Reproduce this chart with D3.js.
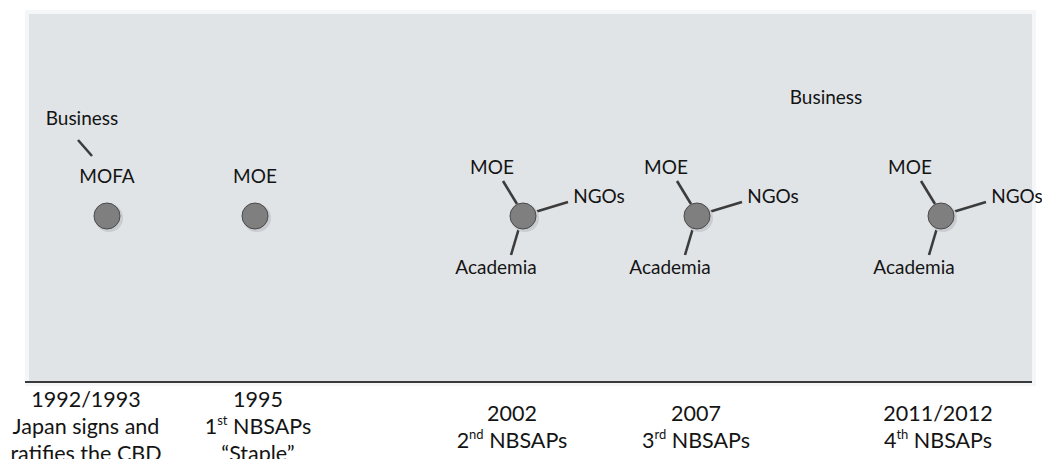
<!DOCTYPE html>
<meta charset="utf-8">
<head>
<style>
body { margin: 0; background: #fff; }
svg { display: block; }
.lbl { font-family: Lato, "Open Sans", sans-serif; fill: #141414; }
.spoke { stroke: #3c3c3c; stroke-width: 2.6px; stroke-linecap: butt; }
.node { fill: #7f7f7f; stroke: #4a4a4a; stroke-width: 1px; }
.shadow { fill: #c9ccd0; }
</style>
<script src="https://d3js.org/d3.v7.min.js"></script>
</head>
<body>
<svg width="1042" height="459"></svg>
<script>

// events on the timeline
var eventYears = [1992.5, 1995, 2002, 2007, 2011.5];
var captions = [
  ["1992/1993", "Japan signs and", "ratifies the CBD"],
  ["1995", "1|st| NBSAPs", "\u201cStaple\u201d"],
  ["2002", "2|nd| NBSAPs"],
  ["2007", "3|rd| NBSAPs"],
  ["2011/2012", "4|th| NBSAPs"]
];
// actor shown on the node itself, and actors linked by spokes
var leadActors = ["MOFA", "MOE", null, null, null];
var linkedActors = [
  ["Business"],
  [],
  ["MOE", "NGOs", "Academia"],
  ["MOE", "NGOs", "Academia"],
  ["MOE", "NGOs", "Academia"]
];
// actors floating without a link
var floatingActors = [{name: "Business", year: 2009.38}];

var svg = d3.select("svg");

// piecewise time axis, the timeline is not to scale
var x = d3.scaleLinear()
    .domain(eventYears)
    .range([107, 255, 523, 697, 941]);

var nodeY = 216, radius = 13;
var captionDx = [-21, 3, -11, -1, -3];

// spoke geometry per actor, relative to the node centre
var roles = {
  MOE:      {x1: -20, y1: -35, x2: -6, y2: -12, lx: -31, ly: -42},
  NGOs:     {x1: 12, y1: -4, x2: 45, y2: -14, lx: 76, ly: -13},
  Academia: {x1: -4, y1: 12, x2: -12, y2: 39, lx: -27, ly: 58},
  Business: {x1: -29, y1: -76, x2: -15, y2: -60, lx: -25, ly: -91}
};

// panel
svg.append("rect").attr("x", 25).attr("y", 10).attr("width", 1011).attr("height", 376).attr("fill", "#f4f6f8");
svg.append("rect").attr("x", 29).attr("y", 14).attr("width", 1003).attr("height", 368).attr("fill", "#e1e4e7");
svg.append("line").attr("x1", 25).attr("x2", 1032).attr("y1", 382).attr("y2", 382)
    .attr("stroke", "#3a3a3a").attr("stroke-width", 2);

var events = eventYears.map(function(y, i) {
  return {year: y, i: i, lead: leadActors[i], links: linkedActors[i], caption: captions[i]};
});

var ev = svg.selectAll(".event")
  .data(events)
  .enter().append("g")
    .attr("class", "event")
    .attr("transform", function(d) { return "translate(" + x(d.year) + "," + nodeY + ")"; });

ev.selectAll(".spoke")
  .data(function(d) { return d.links; })
  .enter().append("line")
    .attr("class", "spoke")
    .attr("x1", function(d) { return roles[d].x1; })
    .attr("y1", function(d) { return roles[d].y1; })
    .attr("x2", function(d) { return roles[d].x2; })
    .attr("y2", function(d) { return roles[d].y2; });

ev.append("circle").attr("class", "shadow").attr("cx", 2).attr("cy", 2).attr("r", radius + 1);
ev.append("circle").attr("class", "node").attr("r", radius);

ev.filter(function(d) { return d.lead; })
  .append("text")
    .attr("class", "lbl")
    .attr("text-anchor", "middle")
    .attr("y", -33)
    .style("font-size", "19px")
    .text(function(d) { return d.lead; });

ev.selectAll(".actor")
  .data(function(d) { return d.links; })
  .enter().append("text")
    .attr("class", "lbl actor")
    .attr("text-anchor", "middle")
    .attr("x", function(d) { return roles[d].lx; })
    .attr("y", function(d) { return roles[d].ly; })
    .style("font-size", "19px")
    .text(function(d) { return d; });

svg.selectAll(".floating")
  .data(floatingActors)
  .enter().append("text")
    .attr("class", "lbl floating")
    .attr("text-anchor", "middle")
    .attr("x", function(d) { return x(d.year); })
    .attr("y", 104)
    .style("font-size", "19px")
    .text(function(d) { return d.name; });

// captions below the axis, centred vertically on y=434
var lineH = 27;
var cap = svg.selectAll(".caption")
  .data(events)
  .enter().append("text")
    .attr("class", "lbl caption")
    .attr("text-anchor", "middle")
    .style("font-size", "21.5px");

cap.each(function(d) {
  var t = d3.select(this);
  var cx = x(d.year) + captionDx[d.i];
  var y0 = 434 - (d.caption.length - 1) / 2 * lineH;
  d.caption.forEach(function(line, k) {
    var parts = line.split("|");
    var ts = t.append("tspan").attr("x", cx).attr("y", y0 + k * lineH);
    if (parts.length === 1) {
      ts.text(line);
    } else {
      ts.append("tspan").text(parts[0]);
      ts.append("tspan").attr("dy", -9).style("font-size", "13px").text(parts[1]);
      ts.append("tspan").attr("dy", 9).text(parts[2]);
    }
  });
});

</script>
</body>
